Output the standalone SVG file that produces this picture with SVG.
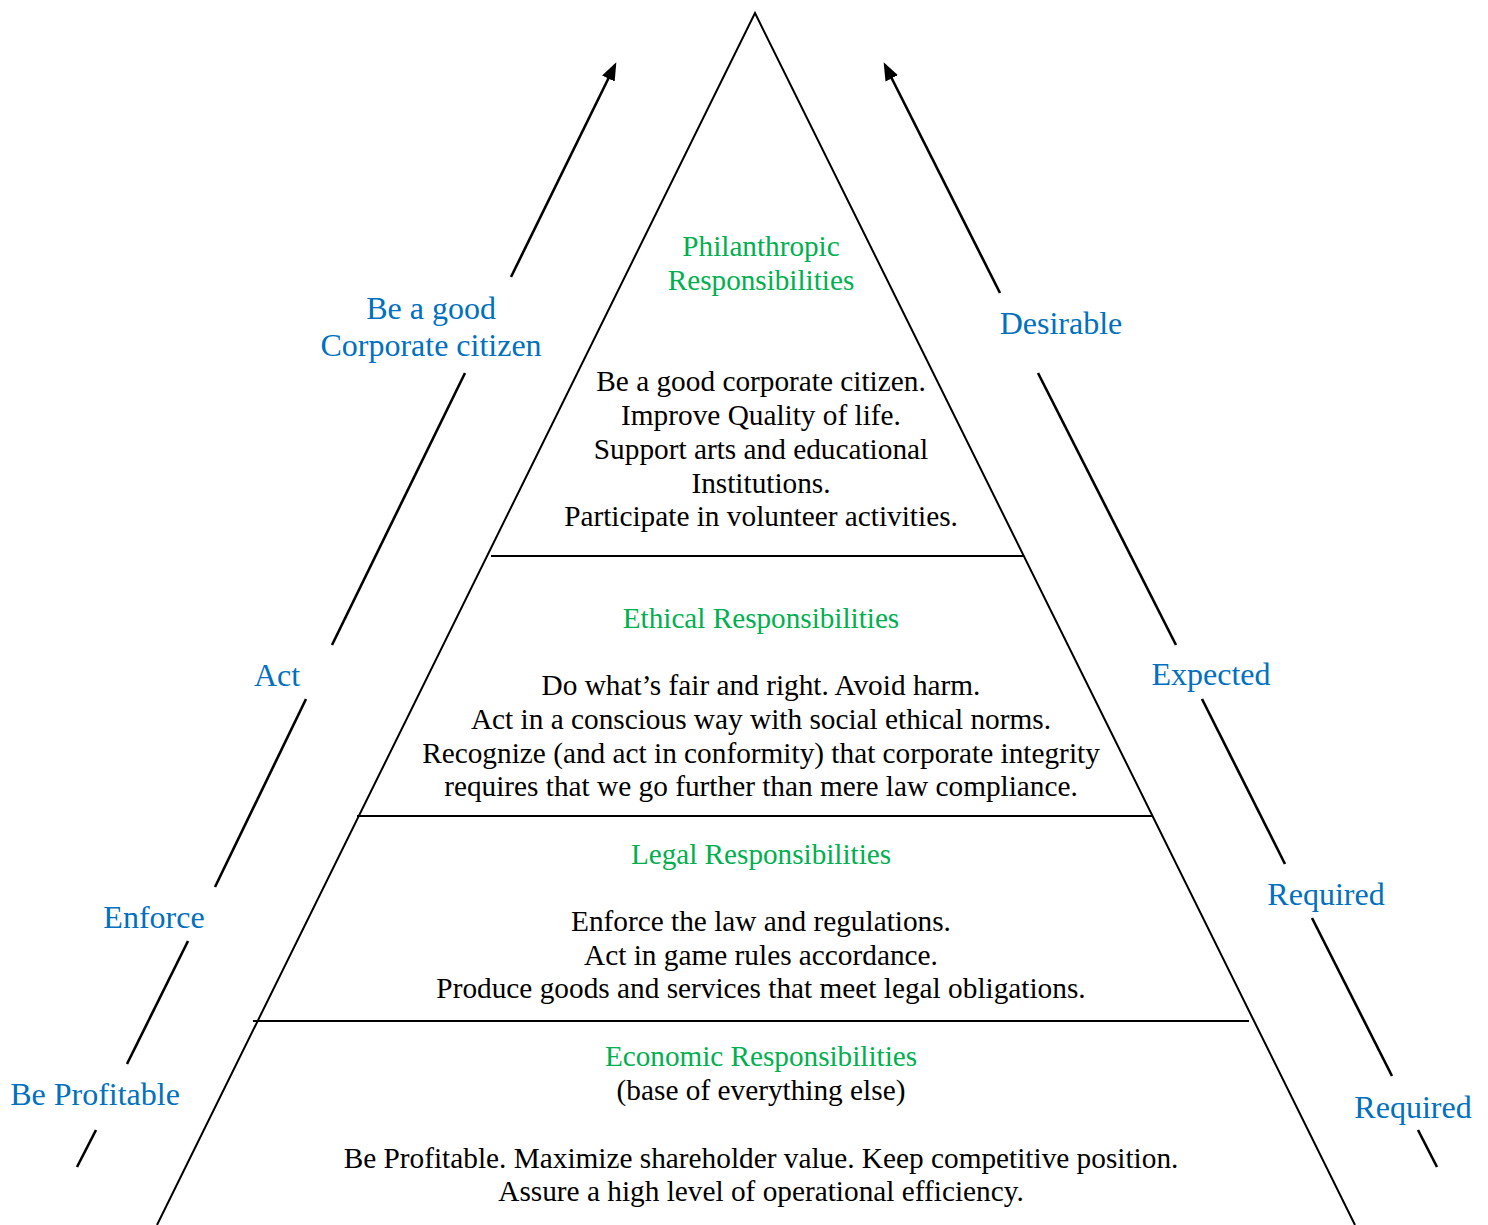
<svg xmlns="http://www.w3.org/2000/svg" width="1488" height="1225" viewBox="0 0 1488 1225">
<style>
text{font-family:"Liberation Serif","Times New Roman",serif;text-anchor:middle}
.b{font-size:29.3px;fill:#000}
.g{font-size:29.2px;fill:#00B050}
.l{font-size:32px;fill:#0070C0}
.edge{stroke:#000;stroke-width:2;fill:none}
.arr{stroke:#000;stroke-width:2.6;fill:none}
</style>
<defs>
<marker id="ah" viewBox="0 0 18 14" refX="15" refY="7" markerWidth="18" markerHeight="14" markerUnits="userSpaceOnUse" orient="auto">
<path d="M0,0 L18,7 L0,14 z" fill="#000"/>
</marker>
</defs>
<rect width="1488" height="1225" fill="#fff"/>
<g id="pyramid">
<polyline class="edge" points="157,1225 755,13 1355,1225"/>
<line class="edge" x1="491" y1="556" x2="1023" y2="556"/>
<line class="edge" x1="357" y1="816" x2="1152" y2="816"/>
<line class="edge" x1="253" y1="1021" x2="1249" y2="1021"/>
</g>
<g id="connectors">
<g id="left-arrow">
<line class="arr" x1="77" y1="1167" x2="96" y2="1130"/>
<line class="arr" x1="127" y1="1064" x2="188" y2="941"/>
<line class="arr" x1="215" y1="887" x2="306" y2="699"/>
<line class="arr" x1="332" y1="645" x2="465" y2="373"/>
<line class="arr" x1="511" y1="277" x2="615" y2="65" marker-end="url(#ah)"/>
</g>
<g id="right-arrow">
<line class="arr" x1="1437" y1="1167" x2="1418" y2="1130"/>
<line class="arr" x1="1392" y1="1076" x2="1312" y2="918"/>
<line class="arr" x1="1285" y1="864" x2="1202" y2="699"/>
<line class="arr" x1="1176" y1="645" x2="1038" y2="373"/>
<line class="arr" x1="1000" y1="293" x2="885" y2="65" marker-end="url(#ah)"/>
</g>
</g>
<g id="philanthropic">
<text class="g" x="761" y="256">Philanthropic</text>
<text class="g" x="761" y="290">Responsibilities</text>
<text class="b" x="761" y="391">Be a good corporate citizen.</text>
<text class="b" x="761" y="425">Improve Quality of life.</text>
<text class="b" x="761" y="459">Support arts and educational</text>
<text class="b" x="761" y="493">Institutions.</text>
<text class="b" x="761" y="526">Participate in volunteer activities.</text>
</g>
<g id="ethical">
<text class="g" x="761" y="628">Ethical Responsibilities</text>
<text class="b" x="761" y="695">Do what’s fair and right. Avoid harm.</text>
<text class="b" x="761" y="729">Act in a conscious way with social ethical norms.</text>
<text class="b" x="761" y="763">Recognize (and act in conformity) that corporate integrity</text>
<text class="b" x="761" y="796">requires that we go further than mere law compliance.</text>
</g>
<g id="legal">
<text class="g" x="761" y="864">Legal Responsibilities</text>
<text class="b" x="761" y="931">Enforce the law and regulations.</text>
<text class="b" x="761" y="965">Act in game rules accordance.</text>
<text class="b" x="761" y="998">Produce goods and services that meet legal obligations.</text>
</g>
<g id="economic">
<text class="g" x="761" y="1066">Economic Responsibilities</text>
<text class="b" x="761" y="1100">(base of everything else)</text>
<text class="b" x="761" y="1168">Be Profitable. Maximize shareholder value. Keep competitive position.</text>
<text class="b" x="761" y="1201">Assure a high level of operational efficiency.</text>
</g>
<g id="left-labels">
<text class="l" x="431" y="319">Be a good</text>
<text class="l" x="431" y="356">Corporate citizen</text>
<text class="l" x="277" y="686">Act</text>
<text class="l" x="154" y="928">Enforce</text>
<text class="l" x="95" y="1105">Be Profitable</text>
</g>
<g id="right-labels">
<text class="l" x="1061" y="334">Desirable</text>
<text class="l" x="1211" y="685">Expected</text>
<text class="l" x="1326" y="905">Required</text>
<text class="l" x="1413" y="1118">Required</text>
</g>
</svg>
